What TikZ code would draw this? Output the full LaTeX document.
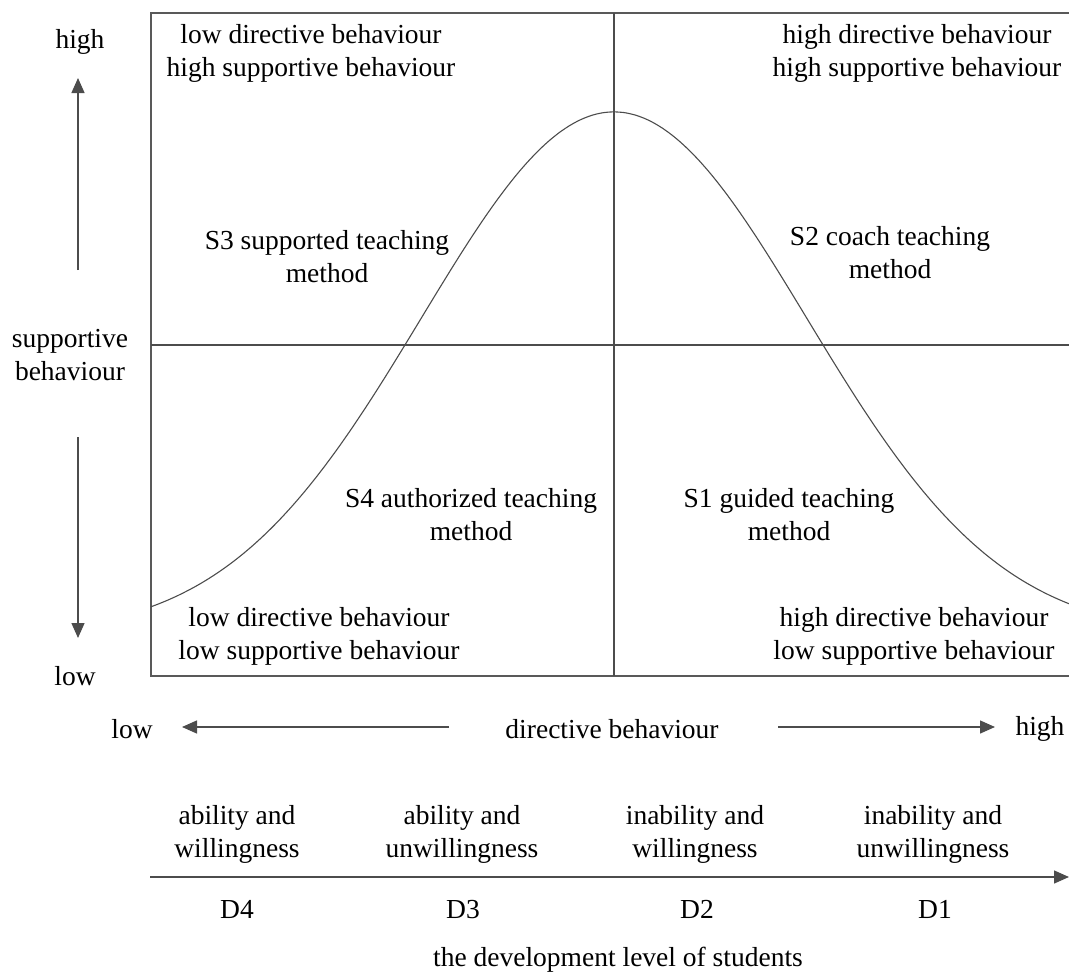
\documentclass[tikz,border=0pt]{standalone}
\usepackage{fontspec}
\setmainfont{Liberation Serif}
\usetikzlibrary{arrows.meta}
\begin{document}
\begin{tikzpicture}[x=1pt,y=-1pt,
  lbl/.style={font=\fontsize{27.5}{33}\selectfont, align=center, inner sep=0pt, text=black},
  frame/.style={draw=black!65, line width=1.8pt},
  divider/.style={draw=black!70, line width=1.1pt},
  curve/.style={draw=black!70, line width=1.1pt},
  axarrow/.style={draw=black!70, line width=1.4pt, -{Triangle[length=15pt,width=13pt]}}]
\useasboundingbox (0,0) rectangle (1069,972);
% frame
\coordinate (TR) at (1069,13);
\coordinate (TL) at (151,13);
\coordinate (BL) at (151,676);
\coordinate (BR) at (1069,676);
\draw[frame] (TR) -- (TL) -- (BL) -- (BR);
% dividers
\coordinate (vt) at (614,13);
\coordinate (vb) at (614,676);
\coordinate (hl) at (151,345);
\coordinate (hr) at (1069,345);
\draw[divider] (vt) -- (vb);
\draw[divider] (hl) -- (hr);
% bell curve
\draw[curve] plot[domain=151:1069, samples=240, smooth] ({\x},{636-524*exp(0-((\x-614)/100)^2/7.4287)});
% quadrant texts
\node[lbl] (q1) at (311,53) {low directive behaviour\\high supportive behaviour};
\node[lbl] (q2) at (917,53) {high directive behaviour\\high supportive behaviour};
\node[lbl] (s3) at (327,257) {S3 supported teaching\\method};
\node[lbl] (s2) at (890,253) {S2 coach teaching\\method};
\node[lbl] (s4) at (471,515) {S4 authorized teaching\\method};
\node[lbl] (s1) at (789,515) {S1 guided teaching\\method};
\node[lbl] (q3) at (319,636) {low directive behaviour\\low supportive behaviour};
\node[lbl] (q4) at (914,636) {high directive behaviour\\low supportive behaviour};
% vertical axis
\node[lbl] (vhigh) at (80,42) {high};
\node[lbl] (vmid) at (70,355) {supportive\\behaviour};
\node[lbl] (vlow) at (75,676) {low};
\coordinate (ua) at (78,270);
\coordinate (ub) at (78,78);
\coordinate (da) at (78,437);
\coordinate (db) at (78,638);
\draw[axarrow] (ua) -- (ub);
\draw[axarrow] (da) -- (db);
% horizontal axis
\node[lbl] (hlow) at (132,729) {low};
\node[lbl] (hmid) at (612,729) {directive behaviour};
\node[lbl] (hhigh) at (1040,729) {high};
\coordinate (la) at (449,727);
\coordinate (lb) at (182,727);
\coordinate (ra) at (778,727);
\coordinate (rb) at (995,727);
\draw[axarrow] (la) -- (lb);
\draw[axarrow] (ra) -- (rb);
% development axis
\coordinate (da0) at (150,877);
\coordinate (da1) at (1069,877);
\draw[axarrow] (da0) -- (da1);
\node[lbl] (l4) at (237,834) {ability and\\willingness};
\node[lbl] (l3) at (462,834) {ability and\\unwillingness};
\node[lbl] (l2) at (695,834) {inability and\\willingness};
\node[lbl] (l1) at (933,834) {inability and\\unwillingness};
\node[lbl, text depth=0pt] (d4) at (237,909) {D4};
\node[lbl, text depth=0pt] (d3) at (463,909) {D3};
\node[lbl, text depth=0pt] (d2) at (697,909) {D2};
\node[lbl, text depth=0pt] (d1) at (935,909) {D1};
\node[lbl] (title) at (618,960) {the development level of students};
\end{tikzpicture}
\end{document}
